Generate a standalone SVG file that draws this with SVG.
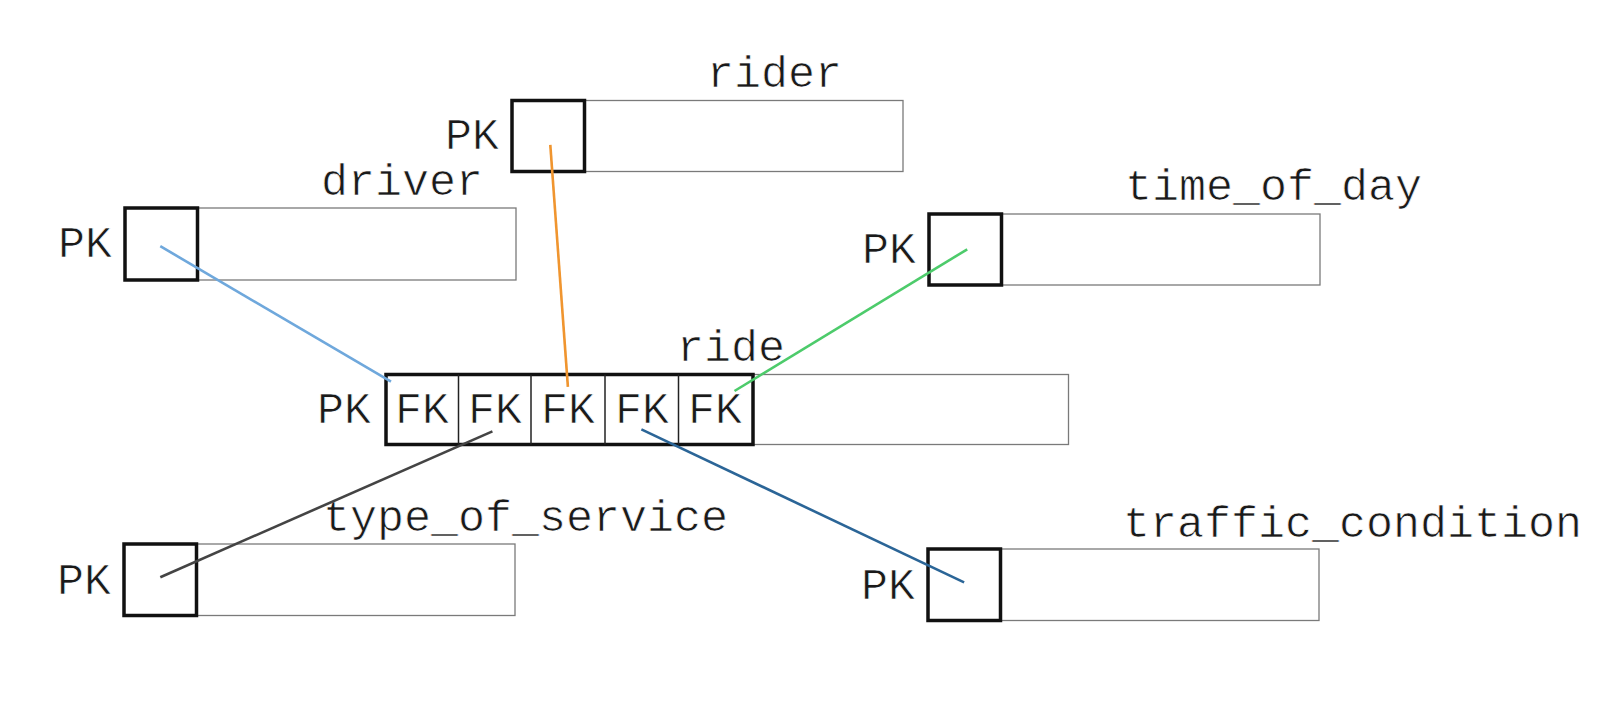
<svg xmlns="http://www.w3.org/2000/svg" width="1622" height="710" viewBox="0 0 1622 710">
<style>
.bg{fill:#fff}
.thin{fill:#fff;stroke:#7a7a7a;stroke-width:1.3}
.thick{fill:none;stroke:#111;stroke-width:3.5}
.div{stroke:#222;stroke-width:1.5}
text{font-family:"Liberation Mono","DejaVu Sans Mono",monospace;font-size:45px;fill:#1a1a1a;stroke:#fff;stroke-width:0.7}
.c{stroke-width:2.6;fill:none}
</style>
<rect class="bg" x="0" y="0" width="1622" height="710"/>
<g id="rider">
<rect class="thin" x="584.5" y="100.5" width="318.5" height="71"/>
<rect class="thick" x="512" y="100.5" width="72.5" height="71"/>
<text x="707" y="87">rider</text>
<text x="445" y="149">PK</text>
</g>
<g id="driver">
<rect class="thin" x="197.5" y="208" width="318.5" height="72"/>
<rect class="thick" x="125" y="208" width="72.5" height="72"/>
<text x="321" y="195">driver</text>
<text x="58" y="257">PK</text>
</g>
<g id="time_of_day">
<rect class="thin" x="1001.5" y="214" width="318.5" height="71"/>
<rect class="thick" x="929" y="214" width="72.5" height="71"/>
<text x="1125" y="200">time_of_day</text>
<text x="862" y="263">PK</text>
</g>
<g id="ride">
<rect class="thin" x="753" y="374.5" width="315.5" height="70"/>
<rect class="thick" x="386" y="374.5" width="367" height="70"/>
<line class="div" x1="458.5" y1="374.5" x2="458.5" y2="444.5"/>
<line class="div" x1="531" y1="374.5" x2="531" y2="444.5"/>
<line class="div" x1="605" y1="374.5" x2="605" y2="444.5"/>
<line class="div" x1="678.5" y1="374.5" x2="678.5" y2="444.5"/>
<text x="677" y="361">ride</text>
<text x="317" y="423">PK</text>
<text x="395" y="423">FK</text>
<text x="468" y="423">FK</text>
<text x="541" y="423">FK</text>
<text x="615" y="423">FK</text>
<text x="688" y="423">FK</text>
</g>
<g id="type_of_service">
<rect class="thin" x="196.5" y="544" width="318.5" height="71.5"/>
<rect class="thick" x="124" y="544" width="72.5" height="71.5"/>
<text x="323" y="531">type_of_service</text>
<text x="57" y="594">PK</text>
</g>
<g id="traffic_condition">
<rect class="thin" x="1000.5" y="549" width="318.5" height="71.5"/>
<rect class="thick" x="928" y="549" width="72.5" height="71.5"/>
<text x="1123" y="537">traffic_condition</text>
<text x="861" y="599">PK</text>
</g>
<g id="connectors">
<line class="c" stroke="#6fa8dc" x1="160.3" y1="246.2" x2="391" y2="381.7"/>
<line class="c" stroke="#f0952f" x1="550.3" y1="144.8" x2="567.9" y2="386.9"/>
<line class="c" stroke="#4dcb6b" x1="967.2" y1="249.3" x2="734.5" y2="391"/>
<line class="c" stroke="#444" x1="160.3" y1="577.2" x2="492.4" y2="431.4"/>
<line class="c" stroke="#2b6597" x1="641.4" y1="429.3" x2="964.1" y2="582.4"/>
</g>
</svg>
